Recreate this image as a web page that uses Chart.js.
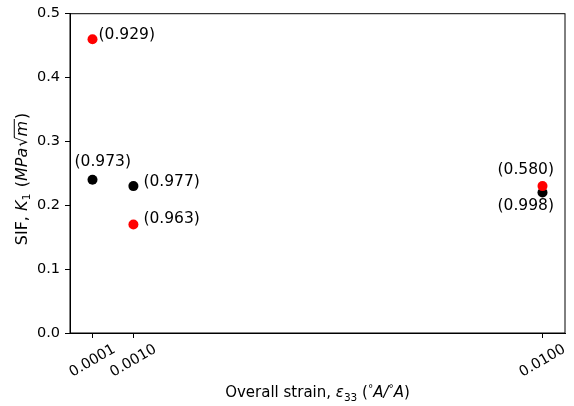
<!DOCTYPE html>
<html>
<head>
<meta charset="utf-8">
<script src="https://cdn.jsdelivr.net/npm/chart.js@4.4.0/dist/chart.umd.min.js"></script>
<style>
  body { margin: 0; background: #fff; }
  #wrap { width: 574px; height: 406px; }
</style>
</head>
<body>
<div id="wrap"><canvas id="chart_sif" width="574" height="406"></canvas></div>
<script>
// dados
const strain = [0.0001, 0.001, 0.01];
const sifBlack = [0.24, 0.23, 0.22];
const sifRed = [0.46, 0.17, 0.23];
const r2Black = ['(0.973)', '(0.977)', '(0.998)'];
const r2Red = ['(0.929)', '(0.963)', '(0.580)'];
const xTicks = [0.0001, 0.001, 0.01];
const xTickLabels = ['0.0001', '0.0010', '0.0100'];

// posicao dos rotulos em relacao ao ponto (esquerda, centro vertical)
const offBlack = [[-18, -18], [10, -4], [-45, 13]];
const offRed = [[6, -4], [10, -5], [-45, -16]];

const FONT = '"DejaVu Sans", sans-serif';

function montarPontos(xs, ys) {
    let pts = [];
    for (let i = 0; i < xs.length; i++) {
        pts.push({ x: xs[i], y: ys[i] });
    }
    return pts;
}

// desenha texto com partes em italico / subscrito / sobrescrito
function desenharTexto(ctx, partes, size, cx, cy, rot) {
    let larguras = [];
    let total = 0;
    partes.forEach(function (p) {
        let s = (p.sub || p.sup) ? size * 0.7 : size;
        ctx.font = (p.italic ? 'italic ' : '') + s + 'px ' + FONT;
        let w = ctx.measureText(p.t).width + (p.gap || 0);
        larguras.push(w);
        total += w;
    });
    ctx.save();
    ctx.translate(cx, cy);
    ctx.rotate(rot);
    ctx.fillStyle = '#000';
    ctx.strokeStyle = '#000';
    ctx.textBaseline = 'alphabetic';
    ctx.textAlign = 'left';
    let x = -total / 2;
    let base = size * 0.36;
    partes.forEach(function (p, i) {
        let s = (p.sub || p.sup) ? size * 0.7 : size;
        ctx.font = (p.italic ? 'italic ' : '') + s + 'px ' + FONT;
        let y = base;
        if (p.sub) y += size * 0.22;
        if (p.sup) y -= size * 0.38;
        ctx.fillText(p.t, x, y);
        if (p.over) {
            ctx.lineWidth = 1;
            ctx.beginPath();
            ctx.moveTo(x - 1, base - size * 0.78);
            ctx.lineTo(x + larguras[i], base - size * 0.78);
            ctx.stroke();
        }
        x += larguras[i];
    });
    ctx.restore();
}

const pluginExtras = {
    id: 'extras',
    afterDraw: function (chart) {
        const ctx = chart.ctx;
        const area = chart.chartArea;
        const sx = chart.scales.x;
        const sy = chart.scales.y;

        // moldura completa
        ctx.save();
        ctx.strokeStyle = '#000';
        ctx.lineWidth = 1;
        ctx.strokeRect(area.left, area.top, area.right - area.left, area.bottom - area.top);
        ctx.restore();

        // rotulos do eixo x girados 30 graus
        ctx.save();
        ctx.fillStyle = '#000';
        ctx.font = '14.5px ' + FONT;
        ctx.textAlign = 'center';
        ctx.textBaseline = 'middle';
        for (let i = 0; i < xTicks.length; i++) {
            let px = sx.getPixelForValue(xTicks[i]);
            ctx.save();
            ctx.translate(px, area.bottom + 28);
            ctx.rotate(-Math.PI / 6);
            ctx.fillText(xTickLabels[i], 0, 0);
            ctx.restore();
        }
        ctx.restore();

        // anotacoes (R2)
        ctx.save();
        ctx.fillStyle = '#000';
        ctx.font = '15.5px ' + FONT;
        ctx.textAlign = 'left';
        ctx.textBaseline = 'middle';
        for (let i = 0; i < strain.length; i++) {
            let px = sx.getPixelForValue(strain[i]);
            ctx.fillText(r2Black[i], px + offBlack[i][0], sy.getPixelForValue(sifBlack[i]) + offBlack[i][1]);
            ctx.fillText(r2Red[i], px + offRed[i][0], sy.getPixelForValue(sifRed[i]) + offRed[i][1]);
        }
        ctx.restore();

        // titulos dos eixos
        desenharTexto(ctx, [
            { t: 'Overall strain, ' },
            { t: 'ε', italic: true },
            { t: '33', sub: true },
            { t: ' (' },
            { t: '°', sup: true },
            { t: 'A/', italic: true },
            { t: '°', sup: true },
            { t: 'A', italic: true },
            { t: ')' }
        ], 15, (area.left + area.right) / 2, 392, 0);

        desenharTexto(ctx, [
            { t: 'SIF, ' },
            { t: 'K', italic: true },
            { t: '1', sub: true, gap: 1 },
            { t: ' (' },
            { t: 'MPa', italic: true, gap: 1 },
            { t: '√' },
            { t: 'm', italic: true, over: true, gap: 2 },
            { t: ')' }
        ], 16, 21, 179, -Math.PI / 2);
    }
};

const config_sif = {
    type: 'scatter',
    data: {
        datasets: [{
            label: 'vermelho',
            data: montarPontos(strain, sifRed),
            backgroundColor: '#ff0000',
            borderWidth: 0,
            pointRadius: 5,
            order: 0
        }, {
            label: 'preto',
            data: montarPontos(strain, sifBlack),
            backgroundColor: '#000000',
            borderWidth: 0,
            pointRadius: 5,
            order: 1
        }]
    },
    options: {
        responsive: false,
        animation: false,
        layout: {
            padding: { top: 11, right: 9, left: 0, bottom: 0 }
        },
        plugins: {
            legend: { display: false },
            tooltip: { enabled: false }
        },
        scales: {
            x: {
                type: 'linear',
                min: -0.000395,
                max: 0.010495,
                afterBuildTicks: function (scale) {
                    scale.ticks = xTicks.map(function (v) { return { value: v }; });
                },
                afterFit: function (scale) { scale.height = 73; },
                ticks: { display: false },
                grid: {
                    drawOnChartArea: false,
                    drawTicks: true,
                    tickLength: 5,
                    color: '#000'
                },
                border: { display: true, color: '#000', width: 1 }
            },
            y: {
                min: 0,
                max: 0.5,
                afterFit: function (scale) { scale.width = 70; },
                ticks: {
                    stepSize: 0.1,
                    color: '#000',
                    padding: 5,
                    font: { family: 'DejaVu Sans', size: 14.5 },
                    callback: function (v) { return v.toFixed(1); }
                },
                grid: {
                    drawOnChartArea: false,
                    drawTicks: true,
                    tickLength: 5,
                    color: '#000'
                },
                border: { display: true, color: '#000', width: 1 }
            }
        }
    },
    plugins: [pluginExtras]
};

const chart_sif = new Chart(document.getElementById('chart_sif'), config_sif);
</script>
</body>
</html>
